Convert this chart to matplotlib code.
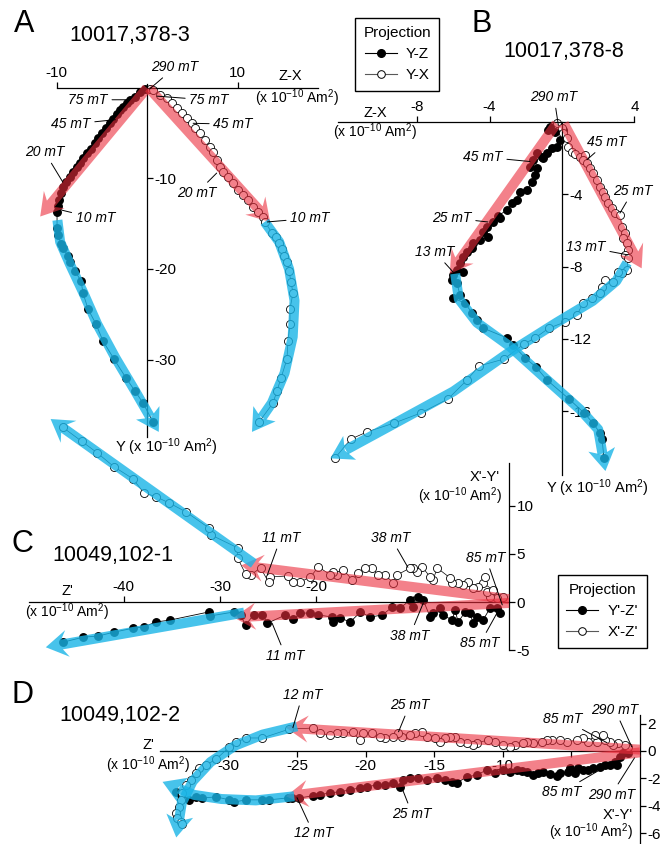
import matplotlib
matplotlib.use('Agg')
import numpy as np
import matplotlib.pyplot as plt
from matplotlib.patches import FancyArrow
from matplotlib.lines import Line2D

W, H = 666, 844
plt.rcParams['font.family'] = ['Liberation Sans', 'DejaVu Sans']
plt.rcParams['mathtext.fontset'] = 'custom'
plt.rcParams['mathtext.rm'] = 'Liberation Sans'
plt.rcParams['mathtext.it'] = 'Liberation Sans:italic'
plt.rcParams['mathtext.default'] = 'regular'
plt.rcParams['axes.unicode_minus'] = False

RED = '#eb2d3c'
BLUE = '#19b4e6'
UNIT = r'(x 10$^{-10}$ Am$^{2}$)'

# ---------------- Panel A: 10017,378-3 ----------------
a_yz_x = [-0.22, -0.77, -1.33, -1.88, -2.21, -2.65, -2.98, -3.31, -3.76, -4.09, -4.53, -4.97, -5.41, -5.75,
          -6.19, -6.63, -7.07, -7.40, -7.73, -8.18, -8.51, -8.95, -9.28, -9.50, -9.72, -9.83, -9.94,
          -9.94, -9.83, -9.50, -9.28, -8.73, -8.51, -7.96, -7.29, -7.07, -6.52, -5.64, -4.86, -3.65,
          -2.32, -1.33, -0.44, 0.66]
a_yz_y = [-0.11, -0.44, -0.99, -1.33, -1.66, -2.10, -2.43, -2.87, -3.43, -3.87, -4.42, -4.97, -5.52, -6.08,
          -6.74, -7.18, -7.73, -8.29, -8.73, -9.28, -9.83, -10.39, -10.94, -11.60, -12.38, -13.04, -13.70,
          -15.47, -16.24, -17.24, -17.68, -18.56, -19.23, -20.22, -21.33, -22.65, -24.42, -26.08, -27.96,
          -29.94, -32.04, -33.48, -34.81, -36.91]
a_yx_x = [0.33, 0.66, 1.44, 2.21, 2.76, 3.31, 3.87, 4.42, 4.97, 5.30, 5.86, 6.41, 6.96, 7.29, 7.73, 8.07,
          8.40, 8.95, 9.50, 10.06, 10.61, 11.16, 11.71, 12.27, 12.82, 13.04, 13.81, 14.25, 14.59, 14.92,
          15.14, 15.47, 15.69, 15.91, 16.13, 15.80, 15.80, 15.58, 15.47, 14.81, 14.36, 13.92, 12.38]
a_yx_y = [-0.11, -0.22, -0.77, -1.10, -1.66, -2.21, -2.76, -3.31, -3.87, -4.42, -4.97, -5.75, -6.52, -7.07,
          -7.96, -8.73, -9.28, -9.83, -10.50, -11.27, -11.82, -12.38, -13.15, -13.70, -14.25, -14.81,
          -16.02, -16.46, -17.13, -17.79, -18.56, -19.23, -20.22, -21.44, -22.65, -24.42, -26.08, -27.96,
          -29.94, -32.04, -33.48, -34.81, -36.91]
a_red = [[(0.0, 0.0), (-11.8, -14.2)], [(0.2, 0.0), (13.6, -14.8)]]
a_blue = [[(-9.9, -14.6), (-9.6, -17.0), (-8.5, -19.5), (-7.0, -22.7), (-5.5, -26.1), (-3.5, -29.8),
           (-1.3, -33.5), (1.3, -38.0)],
          [(13.0, -14.8), (14.6, -17.0), (15.7, -20.0), (16.3, -23.5), (16.1, -27.5), (15.2, -31.5),
           (13.8, -34.8), (11.6, -38.0)]]
a_labels = [('290 mT', (3.1, 2.3), (0.3, -0.1)),
            ('75 mT', (-6.5, -1.3), (-1.9, -1.3)),
            ('75 mT', (6.85, -1.33), (1.1, -0.9)),
            ('45 mT', (-8.4, -4.0), (-3.5, -3.5)),
            ('45 mT', (9.5, -4.0), (5.1, -3.9)),
            ('20 mT', (-11.3, -7.1), (-9.3, -10.4)),
            ('20 mT', (5.5, -11.6), (7.7, -9.4)),
            ('10 mT', (-5.7, -14.4), (-9.4, -13.5)),
            ('10 mT', (18.0, -14.4), (13.3, -14.8))]

# ---------------- Panel B: 10017,378-8 ----------------
b_yz_x = [-0.66, -0.77, -0.39, 0.06, -0.11, -0.28, -0.55, -0.83, -1.10, -1.38, -1.05, -1.60, -1.77, -1.38,
          -1.49, -1.66, -1.93, -2.32, -2.49, -2.76, -3.04, -3.54, -3.43, -3.81, -4.14, -4.36, -4.09, -4.53,
          -4.92, -4.97, -5.25, -5.47, -5.64, -5.80, -5.47, -6.02, -6.08,
          -5.80, -5.64, -6.02, -5.36, -4.97, -4.70, -4.36, -3.04, -2.71, -2.04, -1.44, -0.83, 0.39, 1.22,
          1.71, 2.10, 2.21, 2.32]
b_yz_y = [-0.29, -0.46, -0.57, -0.46, -1.01, -1.40, -1.45, -1.73, -1.95, -1.73, -2.01, -2.12, -2.50, -2.56,
          -2.94, -3.33, -3.77, -3.88, -4.33, -4.49, -4.88, -5.21, -5.32, -5.54, -5.82, -6.09, -6.37, -6.54,
          -6.70, -6.98, -7.20, -7.48, -7.81, -8.19, -8.30, -8.47, -8.75,
          -8.91, -9.58, -9.74, -10.02, -10.57, -10.96, -11.40, -11.95, -12.34, -13.05, -13.55, -14.27,
          -15.32, -16.09, -16.65, -17.20, -17.53, -18.58]
b_yx_x = [-0.28, 0.00, 0.06, 0.28, 0.33, 0.55, 0.72, 0.99, 1.27, 1.16, 1.38, 1.55, 1.71, 1.93, 2.10, 2.27,
          2.38, 2.54, 2.76, 2.93, 3.20, 3.31, 3.48, 3.37, 3.59, 3.65, 3.48, 3.65,
          3.59, 3.31, 3.09, 2.82, 2.38, 2.21, 2.10, 1.66, 1.16, 0.83, 0.17, -0.72, -1.49, -2.10, -3.20,
          -4.59, -5.25, -6.30, -7.79, -9.28, -10.77, -11.66, -12.54]
b_yx_y = [-0.07, -0.35, -0.62, -0.90, -1.40, -1.68, -1.78, -1.95, -1.84, -2.12, -2.28, -2.56, -2.83, -3.22,
          -3.61, -3.88, -4.16, -4.49, -4.77, -5.04, -5.15, -5.82, -6.15, -6.43, -6.70, -7.09, -7.36, -7.53,
          -8.19, -8.36, -8.30, -8.86, -8.75, -9.13, -9.46, -9.74, -10.02, -10.68, -11.07, -11.40, -11.95,
          -12.28, -13.11, -13.50, -14.27, -15.32, -16.09, -16.65, -17.14, -17.53, -18.58]
b_red = [[(-0.3, -0.1), (-6.2, -8.4)], [(0.1, -0.1), (4.4, -8.1)]]
b_blue = [[(-5.9, -8.4), (-5.7, -9.8), (-4.7, -11.1), (-2.9, -12.4), (-0.9, -14.2), (1.0, -15.9),
           (2.0, -17.0), (2.4, -19.3)],
          [(3.6, -7.8), (3.0, -8.8), (1.7, -9.9), (-0.3, -11.1), (-3.0, -12.8), (-6.0, -14.9),
           (-9.3, -16.7), (-12.8, -18.6)]]
b_labels = [('290 mT', (-0.44, 1.36), (-0.2, -0.2)),
            ('45 mT', (-4.36, -1.95), (-1.77, -2.2)),
            ('45 mT', (2.49, -1.12), (1.38, -2.1)),
            ('25 mT', (3.92, -3.83), (3.2, -5.05)),
            ('25 mT', (-6.08, -5.32), (-4.09, -5.54)),
            ('13 mT', (-7.02, -7.2), (-6.02, -8.3)),
            ('13 mT', (1.33, -6.92), (3.65, -7.36))]

# ---------------- Panel C: 10049,102-1 ----------------
c_yz_x = [-0.93, -1.24, -1.97, -2.69, -3.32, -3.73, -4.04, -4.56, -5.28, -5.60, -5.91, -6.84, -7.15, -7.88,
          -8.19, -8.91, -9.43, -9.95, -10.26, -11.30, -12.12, -13.16, -14.40, -15.44, -16.48, -17.51,
          -18.24, -18.34, -19.79, -20.62, -21.66, -22.38, -23.21, -25.08, -25.60, -26.53, -27.36, -27.88,
          -28.6, -31.1, -31.2, -35.2, -36.7, -37.9, -39.0, -41.0, -42.7, -44.2, -46.3]
c_yz_y = [-1.15, -0.63, -0.63, -1.88, -1.56, -2.19, -1.15, -1.04, -2.08, -0.83, -1.88, -1.35, -0.63, -1.15,
          -1.56, 0.21, 0.52, -0.52, 0.21, -0.63, -0.52, -1.35, -1.56, -1.04, -2.08, -1.67, -2.08, -1.56,
          -1.35, -1.15, -1.15, -1.77, -1.35, -2.19, -1.35, -1.35, -2.40, -1.35,
          -1.04, -1.46, -1.04, -1.88, -2.08, -2.60, -2.71, -3.13, -3.54, -3.65, -4.17]
c_xz_x = [-0.62, -1.24, -1.97, -2.28, -1.66, -2.69, -2.49, -3.21, -3.73, -4.25, -4.77, -5.28, -5.91, -6.11,
          -7.46, -7.88, -8.19, -9.02, -9.53, -9.95, -10.26, -11.61, -12.02, -12.85, -13.58, -14.20, -14.92,
          -15.65, -16.27, -17.20, -17.82, -18.24, -18.55, -19.79, -20.62, -21.66, -22.38, -22.90, -24.77,
          -24.97, -25.80, -26.84, -27.36,
          -28.19, -28.19, -30.98, -31.19, -33.58, -35.34, -36.68, -37.93, -39.07, -41.04, -42.80, -44.35,
          -46.32]
c_xz_y = [0.52, 0.42, 0.52, 1.04, 1.25, 1.98, 2.60, 1.56, 1.46, 2.08, 1.77, 1.98, 1.98, 2.50, 3.54, 2.29,
          2.60, 3.65, 3.13, 3.54, 3.54, 2.81, 1.98, 2.81, 2.81, 3.54, 3.54, 3.02, 2.29, 3.33, 2.81, 3.13,
          2.81, 3.65, 2.60, 2.08, 2.08, 2.71, 2.60, 2.08, 3.54, 2.81, 2.92,
          4.58, 5.63, 6.98, 7.71, 9.38, 10.31, 10.94, 11.35, 12.81, 14.06, 15.52, 16.67, 18.13]
c_red = [[(0.0, 0.3), (-27.8, 3.8)], [(0.0, -0.1), (-28.6, -1.6)]]
c_blue = [[(-26.5, 4.0), (-47.6, 19.0)], [(-27.5, -1.1), (-48.1, -4.7)]]
c_labels = [('11 mT', (-23.7, 6.65), (-25.1, 2.8)),
            ('38 mT', (-12.25, 6.65), (-10.5, 3.6)),
            ('85 mT', (-2.4, 4.6), (-0.7, -0.3)),
            ('11 mT', (-23.2, -5.6), (-24.6, -2.2)),
            ('38 mT', (-10.3, -3.5), (-8.9, -0.1)),
            ('85 mT', (-3.0, -4.3), (-1.25, -1.15))]

# ---------------- Panel D: 10049,102-2 ----------------
d_yz_x = [-0.88, -1.24, -1.46, -1.82, -1.68, -2.19, -2.55, -2.92, -3.43, -3.80, -4.16, -4.53, -4.74, -5.11,
          -5.26, -5.84, -6.06, -6.57, -7.08, -7.45, -7.81, -8.25, -8.61, -8.98, -9.49, -10.00, -10.58,
          -11.17, -11.90, -12.63, -13.36, -13.72, -14.23, -14.82, -15.55, -16.20, -16.79, -17.30, -17.52,
          -18.03, -18.61, -19.20, -19.93, -20.44, -21.17, -21.90, -22.63, -23.36, -23.87, -24.82, -25.40,
          -25.69, -27.01, -27.52, -28.69, -29.56, -29.93, -30.88, -31.90, -32.34, -32.85, -33.43, -33.80]
d_yz_y = [-0.15, -0.15, -0.44, -0.80, -1.02, -1.02, -1.02, -1.16, -1.24, -1.38, -1.38, -1.24, -1.60, -1.24,
          -1.53, -1.60, -1.82, -1.67, -1.53, -1.60, -1.75, -1.53, -1.45, -1.38, -1.53, -1.38, -1.60, -1.38,
          -1.75, -1.89, -2.33, -2.25, -2.11, -1.96, -2.11, -1.96, -1.96, -2.11, -2.62, -2.33, -2.47, -2.47,
          -2.62, -2.69, -2.84, -2.98, -3.05, -3.20, -3.27, -3.42, -3.42,
          -3.42, -3.56, -3.56, -3.56, -3.71, -3.56, -3.35, -3.42, -3.35, -3.56, -3.20, -2.98]
d_xz_x = [-0.88, -1.09, -1.61, -1.97, -2.19, -2.55, -2.70, -3.14, -3.28, -3.80, -4.16, -4.60, -5.33, -5.84,
          -6.42, -6.79, -7.15, -7.81, -8.25, -8.54, -9.12, -9.49, -10.00, -10.58, -11.09, -11.90, -12.19,
          -12.63, -13.14, -13.50, -13.87, -14.23, -14.60, -14.96, -15.55, -15.91, -16.42, -16.79, -17.37,
          -17.66, -18.03, -18.61, -18.98, -19.56, -20.22, -20.44, -20.95, -21.68, -22.12, -22.63, -23.36,
          -23.87, -25.55, -27.52, -28.69, -29.42, -29.93, -30.88, -31.61, -32.12, -32.34, -32.70, -33.07,
          -33.36, -33.43, -33.58, -33.80, -33.72, -33.43, -33.36]
d_xz_y = [0.29, 0.44, 0.58, 0.44, 0.65, 0.80, 1.16, 0.65, 1.16, 0.65, 0.95, 0.80, 0.65, 0.80, 0.80, 0.80,
          0.65, 0.58, 0.65, 0.58, 0.44, 0.29, 0.44, 0.65, 0.80, 0.58, 0.44, 0.58, 0.65, 1.02, 1.02, 0.95,
          0.65, 0.95, 1.02, 1.38, 1.31, 1.16, 1.02, 1.31, 1.02, 0.95, 1.02, 1.31, 1.31, 0.80, 1.38, 1.31,
          1.31, 1.16, 1.31, 1.67, 1.60, 0.95, 0.95, 0.65, 0.29, -0.58, -1.02, -1.24, -1.60, -2.11, -2.47,
          -3.05, -3.56, -4.07, -4.51, -4.87, -5.16, -5.31]
d_red = [[(0.0, 0.1), (-25.8, 1.7)], [(0.0, -0.1), (-25.8, -3.3)]]
d_blue = [[(-25.0, 1.8), (-27.5, 1.2), (-29.5, 0.4), (-31.3, -0.8), (-32.6, -2.2), (-33.4, -3.8),
           (-33.8, -6.3)],
          [(-25.2, -3.3), (-28.0, -3.6), (-30.5, -3.5), (-32.5, -3.2), (-34.8, -2.25)]]
d_labels = [('12 mT', (-24.6, 4.1), (-25.3, 1.7)),
            ('25 mT', (-16.8, 3.35), (-17.6, 1.4)),
            ('85 mT', (-5.6, 2.33), (-2.4, 0.6)),
            ('290 mT', (-1.82, 3.0), (-0.6, 0.3)),
            ('85 mT', (-5.7, -3.0), (-2.7, -1.24)),
            ('290 mT', (-2.1, -3.2), (-0.4, -0.5)),
            ('25 mT', (-16.6, -4.6), (-17.35, -2.7)),
            ('12 mT', (-23.8, -6.0), (-25.0, -3.4))]

fig = plt.figure(figsize=(W / 100, H / 100), dpi=100)


def ptext(px, py, s, **kw):
    fig.text(px / W, 1 - py / H, s, **kw)


def make_panel(ox, oy, s, xlim, ylim, xside, xbounds, xticks, xlabels, ybounds, yticks):
    left = (ox + xlim[0] * s) / W
    right = (ox + xlim[1] * s) / W
    bottom = 1 - (oy - ylim[0] * s) / H
    top = 1 - (oy - ylim[1] * s) / H
    ax = fig.add_axes([left, bottom, right - left, top - bottom])
    ax.set_xlim(xlim)
    ax.set_ylim(ylim)
    ax.patch.set_visible(False)
    other = 'bottom' if xside == 'top' else 'top'
    ax.spines[other].set_visible(False)
    ax.spines['left'].set_visible(False)
    ax.spines[xside].set_position(('data', 0))
    ax.spines[xside].set_bounds(*xbounds)
    ax.spines['right'].set_position(('data', 0))
    ax.spines['right'].set_bounds(*ybounds)
    for sp in ax.spines.values():
        sp.set_linewidth(0.9)
    ax.xaxis.set_ticks_position(xside)
    ax.yaxis.set_ticks_position('right')
    ax.set_xticks(xticks)
    ax.set_xticklabels(xlabels)
    ax.set_yticks(yticks)
    ax.set_yticklabels([str(t) for t in yticks])
    ax.tick_params(length=4, width=0.9, labelsize=11, pad=1.5)
    return ax, s


def series(ax, x, y, filled):
    if filled:
        ax.plot(x, y, '-', color='k', lw=0.6, marker='o', ms=5.4, mfc='k', mec='k', zorder=2)
    else:
        ax.plot(x, y, '-', color='k', lw=0.5, marker='o', ms=5.8, mfc='white', mec='k',
                mew=0.6, zorder=2)


def arrow(ax, s, pts, color, alpha):
    w, hw, hl = 10 / s, 27 / s, 22 / s
    pts = np.array(pts, dtype=float)
    tip = pts[-1]
    d = tip - pts[-2]
    d = d / np.hypot(*d)
    if len(pts) == 2:
        ax.add_patch(FancyArrow(pts[0][0], pts[0][1], *(tip - pts[0]), width=w, head_width=hw,
                                head_length=hl, length_includes_head=True, overhang=0.25,
                                color=color, alpha=alpha, lw=0, zorder=3))
        return
    base = tip - hl * d
    band = np.vstack([pts[:-1], base + 0.2 * hl * d])
    ax.plot(band[:, 0], band[:, 1], color=color, alpha=alpha, lw=10 * 0.72,
            solid_capstyle='butt', solid_joinstyle='round', zorder=3)
    ax.add_patch(FancyArrow(base[0], base[1], *(tip - base), width=0.01 / s, head_width=hw,
                            head_length=hl, length_includes_head=True, overhang=0.25,
                            color=color, alpha=alpha, lw=0, zorder=3))


def labels(ax, items):
    for txt, xyt, xy in items:
        ax.annotate(txt, xy=xy, xytext=xyt, fontsize=10, style='italic', ha='center', va='center',
                    arrowprops=dict(arrowstyle='-', lw=0.7, color='k', shrinkA=1, shrinkB=0),
                    zorder=5)


# Panel A
axA, sA = make_panel(147, 88, 9.05, (-13, 19.5), (-39.5, 3), 'top', (-10, 18.9), [-10, 10],
                     ['-10', '10'], (-38.6, 0.4), [-10, -20, -30])
series(axA, a_yz_x, a_yz_y, True)
series(axA, a_yx_x, a_yx_y, False)
for p in a_red:
    arrow(axA, sA, p, RED, 0.6)
for p in a_blue:
    arrow(axA, sA, p, BLUE, 0.8)
labels(axA, a_labels)

# Panel B
axB, sB = make_panel(562, 121.7, 18.1, (-13.5, 5), (-20, 2), 'top', (-12.4, 4), [-8, -4, 4],
                     ['-8', '-4', '4'], (-19.5, 0), [-4, -8, -12, -16])
series(axB, b_yz_x, b_yz_y, True)
series(axB, b_yx_x, b_yx_y, False)
for p in b_red:
    arrow(axB, sB, p, RED, 0.6)
for p in b_blue:
    arrow(axB, sB, p, BLUE, 0.8)
labels(axB, b_labels)

# Panel C
axC, sC = make_panel(509, 602, 9.63, (-50.5, 1), (-6, 20), 'top', (-49.8, 0), [-40, -30, -20, -10],
                     ['-40', '-30', '-20', ''], (-5, 14.4), [10, 5, 0, -5])
series(axC, c_yz_x, c_yz_y, True)
series(axC, c_xz_x, c_xz_y, False)
for p in c_red:
    arrow(axC, sC, p, RED, 0.6)
for p in c_blue:
    arrow(axC, sC, p, BLUE, 0.8)
labels(axC, c_labels)

# Panel D
axD, sD = make_panel(640, 751, 13.72, (-36, 1), (-7, 4.5), 'bottom', (-35, 0),
                     [-30, -25, -20, -15, -10, -5], ['-30', '-25', '-20', '-15', '-10', ''],
                     (-6.8, 2.6), [2, 0, -2, -4, -6])
series(axD, d_yz_x, d_yz_y, True)
series(axD, d_xz_x, d_xz_y, False)
for p in d_red:
    arrow(axD, sD, p, RED, 0.6)
for p in d_blue:
    arrow(axD, sD, p, BLUE, 0.8)
labels(axD, d_labels)

# panel letters, sample names and axis names
for letter, px, py in [('A', 24, 24), ('B', 482, 24), ('C', 22, 544), ('D', 22, 695)]:
    ptext(px, py, letter, fontsize=22, ha='center', va='center')
for name, px, py in [('10017,378-3', 130, 35), ('10017,378-8', 564, 52),
                     ('10049,102-1', 113, 555), ('10049,102-2', 120, 715)]:
    ptext(px, py, name, fontsize=15.5, ha='center', va='center')

ptext(290, 76, 'Z-X', fontsize=10.5, ha='center', va='center')
ptext(297, 98, UNIT, fontsize=10, ha='center', va='center')
ptext(166, 447, 'Y ' + UNIT, fontsize=10.5, ha='center', va='center')
ptext(375, 113, 'Z-X', fontsize=10.5, ha='center', va='center')
ptext(375, 132, UNIT, fontsize=10, ha='center', va='center')
ptext(597, 488, 'Y ' + UNIT, fontsize=10.5, ha='center', va='center')
ptext(67, 591, "Z'", fontsize=10.5, ha='center', va='center')
ptext(67, 612, UNIT, fontsize=10, ha='center', va='center')
ptext(500, 477, "X'-Y'", fontsize=10.5, ha='right', va='center')
ptext(502, 496, UNIT, fontsize=10, ha='right', va='center')
ptext(148, 745, "Z'", fontsize=10.5, ha='center', va='center')
ptext(148, 765, UNIT, fontsize=10, ha='center', va='center')
ptext(633, 815, "X'-Y'", fontsize=10.5, ha='right', va='center')
ptext(633, 832, UNIT, fontsize=10, ha='right', va='center')

# legends
h_fill = Line2D([], [], color='k', lw=0.8, marker='o', ms=5.5, mfc='k', mec='k')
h_open = Line2D([], [], color='0.35', lw=0.8, marker='o', ms=5.5, mfc='white', mec='k', mew=0.7)
for labs, px, py in [(['Y-Z', 'Y-X'], 355, 18), (["Y'-Z'", "X'-Z'"], 558, 575)]:
    leg = fig.legend([h_fill, h_open], labs, title='Projection', loc='upper left',
                     bbox_to_anchor=(px / W, 1 - py / H), fontsize=11, title_fontsize=11,
                     fancybox=False, edgecolor='k', framealpha=1, handlelength=2.1,
                     borderpad=0.55, labelspacing=0.45, handletextpad=0.6, borderaxespad=0)
    leg.get_frame().set_linewidth(1.0)

fig.savefig('out.png', dpi=100)
